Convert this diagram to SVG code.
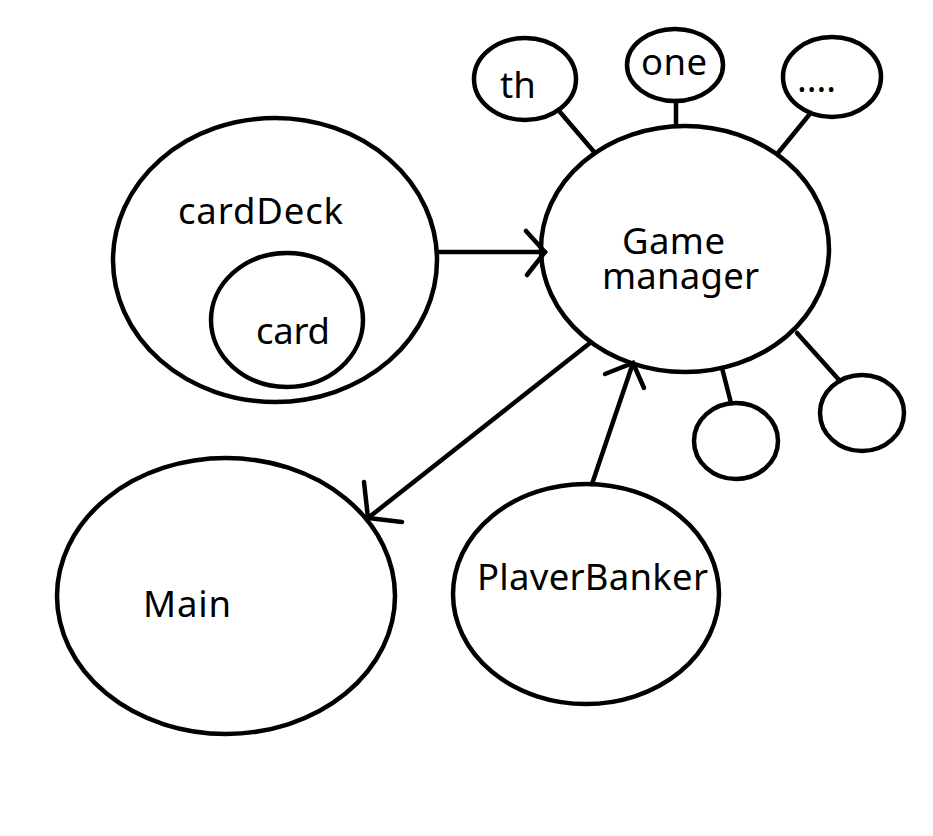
<svg xmlns="http://www.w3.org/2000/svg" width="933" height="836" viewBox="0 0 933 836">
<style>
.n{fill:none;stroke:#000;stroke-width:4.5}
.c line,.c polyline{stroke:#000;stroke-width:4.5;fill:none;stroke-linecap:round}
text{font-family:"Noto Sans","Open Sans",sans-serif;font-size:36.5px;fill:#000}
</style>
<defs><clipPath id="pb"><rect x="440" y="480" width="300" height="110"/></clipPath></defs>
<rect width="933" height="836" fill="#fff"/>
<g class="c">
<line x1="437" y1="252" x2="545" y2="252"/>
<polyline points="526,231 545,252 527,275"/>
<line x1="590" y1="343" x2="368" y2="518"/>
<polyline points="364,482 368,518 402,522"/>
<line x1="592" y1="484" x2="633" y2="363"/>
<polyline points="605,374 633,363 644,388"/>
<line x1="560" y1="112" x2="595" y2="153"/>
<line x1="676" y1="101" x2="676" y2="124"/>
<line x1="809" y1="115" x2="778" y2="153"/>
<line x1="722" y1="368" x2="731" y2="403"/>
<line x1="797" y1="333" x2="840" y2="381"/>
</g>
<g id="cardDeck"><ellipse class="n" cx="275" cy="260" rx="162" ry="142"/><text x="178" y="224" textLength="165">cardDeck</text></g>
<g id="card"><ellipse class="n" cx="287" cy="320" rx="76" ry="67"/><text x="256" y="344" textLength="74">card</text></g>
<g id="gamemanager"><ellipse class="n" cx="685" cy="249" rx="144" ry="123"/><text x="622" y="254" textLength="103">Game</text><text x="602" y="289" textLength="157">manager</text></g>
<g id="th"><ellipse class="n" cx="525" cy="79" rx="51" ry="41"/><text x="500" y="98">th</text></g>
<g id="one"><ellipse class="n" cx="675" cy="65" rx="48" ry="36"/><text x="641" y="75" textLength="66">one</text></g>
<g id="dots"><ellipse class="n" cx="832" cy="77" rx="49" ry="40"/><text x="797" y="92">....</text></g>
<g id="small1"><ellipse class="n" cx="736" cy="441" rx="42" ry="38"/></g>
<g id="small2"><ellipse class="n" cx="862" cy="413" rx="42" ry="38"/></g>
<g id="main"><ellipse class="n" cx="226" cy="596" rx="169" ry="138"/><text x="143" y="617" textLength="88">Main</text></g>
<g id="playerbanker"><ellipse class="n" cx="586" cy="594" rx="133" ry="110"/><text x="477" y="590" textLength="231" clip-path="url(#pb)">PlayerBanker</text></g>
</svg>
